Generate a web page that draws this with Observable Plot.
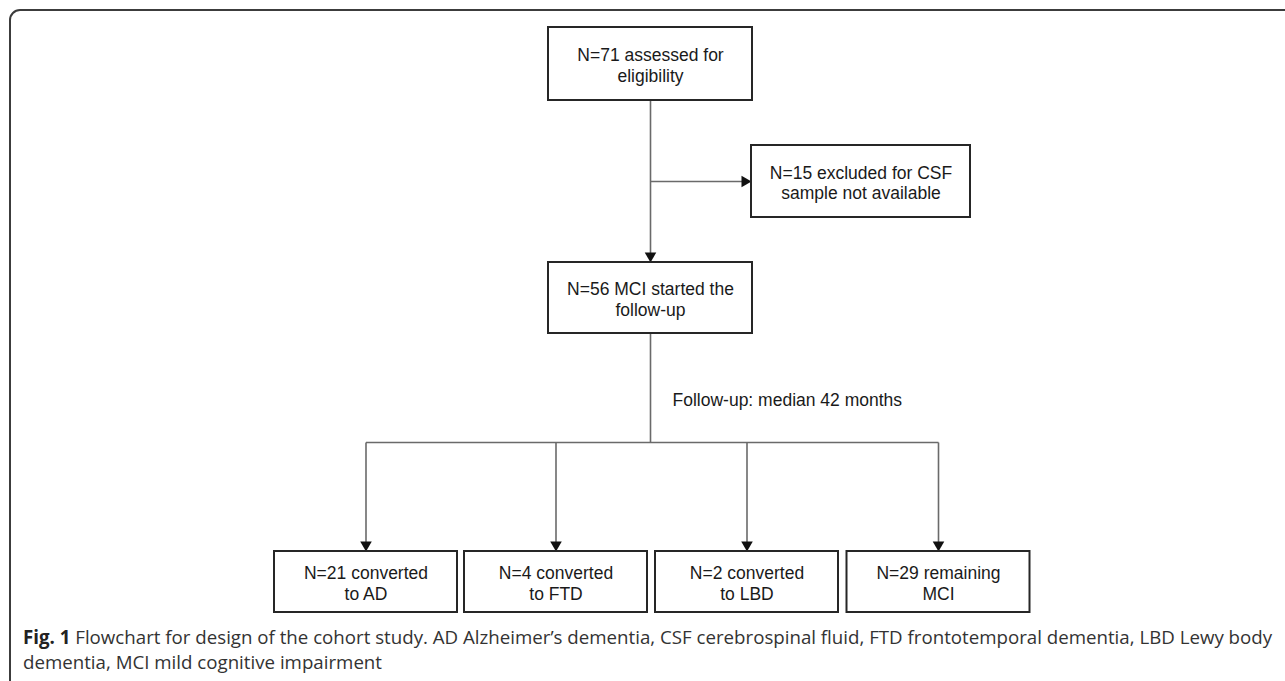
<!DOCTYPE html>
<html>
<head>
<meta charset="utf-8">
<script src="https://cdn.jsdelivr.net/npm/d3@7"></script>
<script src="https://cdn.jsdelivr.net/npm/@observablehq/plot@0.6"></script>
<style>
  html, body { margin: 0; padding: 0; background: #fff; overflow: hidden; }
  #page { position: relative; width: 1285px; height: 681px; overflow: hidden; }
  #frame { position: absolute; left: 9px; top: 9px; width: 1320px; height: 720px;
           border: 2px solid #3c3c3c; border-radius: 11px; box-sizing: border-box; }
  #chart { position: absolute; left: 0; top: 0; }
  #caption { position: absolute; left: 23px; top: 624px; width: 1270px;
             font-family: "Open Sans", sans-serif; font-size: 18.7px; line-height: 25px;
             color: #333; white-space: nowrap; }
  #caption b { color: #222; }
</style>
</head>
<body>
<div id="page">
  <div id="frame"></div>
  <div id="chart"></div>
  <div id="caption"></div>
</div>
<script>
// ---- data ----
const stepLabels = ["N=71 assessed for\neligibility", "N=56 MCI started the\nfollow-up"];
const excludedLabel = "N=15 excluded for CSF\nsample not available";
const followUpLabel = "Follow-up: median 42 months";
const outcomeLabels = ["N=21 converted\nto AD", "N=4 converted\nto FTD", "N=2 converted\nto LBD", "N=29 remaining\nMCI"];
const captionBold = "Fig. 1";
const captionLines = [
  " Flowchart for design of the cohort study. AD Alzheimer\u2019s dementia, CSF cerebrospinal fluid, FTD frontotemporal dementia, LBD Lewy body",
  "dementia, MCI mild cognitive impairment"
];

// ---- layout (diagram geometry, kept separate from the data) ----
const W = 1285, H = 625;
const L = {
  mainX: 650, mainW: 204,
  stepY: [[27, 100], [262, 333]],
  exclX: [751, 970], exclY: [145, 217], branchY: 181,
  splitY: 442, followX: 672, followY: 400,
  outCX: [365.5, 555.5, 746.5, 938], outW: 183, outY: [551, 612]
};

const boxes = [];
stepLabels.forEach((t, i) => boxes.push({x1: L.mainX - L.mainW/2, x2: L.mainX + L.mainW/2, y1: L.stepY[i][0], y2: L.stepY[i][1], label: t}));
boxes.push({x1: L.exclX[0], x2: L.exclX[1], y1: L.exclY[0], y2: L.exclY[1], label: excludedLabel});
outcomeLabels.forEach((t, i) => boxes.push({x1: L.outCX[i] - L.outW/2, x2: L.outCX[i] + L.outW/2, y1: L.outY[0], y2: L.outY[1], label: t}));

const links = [
  {x1: L.mainX, y1: L.stepY[0][1], x2: L.mainX, y2: L.stepY[1][0], dir: "down"},
  {x1: L.mainX, y1: L.branchY, x2: L.exclX[0], y2: L.branchY, dir: "right"},
  {x1: L.mainX, y1: L.stepY[1][1], x2: L.mainX, y2: L.splitY, dir: null},
  {x1: L.outCX[0], y1: L.splitY, x2: L.outCX[L.outCX.length-1], y2: L.splitY, dir: null},
  ...L.outCX.map(cx => ({x1: cx, y1: L.splitY, x2: cx, y2: L.outY[0], dir: "down"}))
];
const headLen = 10;
const heads = links.filter(d => d.dir).map(d => d.dir === "down"
  ? {x: d.x2, y: d.y2 - headLen * 2/3, rot: 180}
  : {x: d.x2 - headLen * 2/3, y: d.y2, rot: 90});
const lines = links.map(d => d.dir === "down" ? {...d, y2: d.y2 - headLen + 1}
                         : d.dir === "right" ? {...d, x2: d.x2 - headLen + 1} : d);

const ty = headLen / 3;
const triR = Math.sqrt(ty * ty * 3 * Math.sqrt(3) / Math.PI);

const plot = Plot.plot({
  width: W, height: H,
  margin: 0,
  x: {domain: [0, W], range: [0, W], axis: null},
  y: {domain: [0, H], range: [0, H], axis: null},
  marks: [
    Plot.link(lines, {x1: "x1", y1: "y1", x2: "x2", y2: "y2", stroke: "#6a6a6a", strokeWidth: 1.6}),
    Plot.dot(heads, {x: "x", y: "y", symbol: "triangle", r: triR, rotate: "rot", fill: "#111", stroke: "none"}),
    Plot.rect(boxes, {x1: "x1", x2: "x2", y1: "y1", y2: "y2", fill: "white", stroke: "#262626", strokeWidth: 2}),
    Plot.text(boxes, {x: d => (d.x1 + d.x2) / 2, y: d => (d.y1 + d.y2) / 2 + 1, text: "label",
      fontFamily: "Liberation Sans, Arial, sans-serif", fontSize: 17.5, lineHeight: 1.17, fill: "#1a1a1a"}),
    Plot.text([followUpLabel], {x: L.followX, y: L.followY, text: d => d, textAnchor: "start",
      fontFamily: "Liberation Sans, Arial, sans-serif", fontSize: 17.5, fill: "#1a1a1a"})
  ]
});
document.getElementById("chart").appendChild(plot);

const cap = document.getElementById("caption");
const b = document.createElement("b"); b.textContent = captionBold;
cap.appendChild(b);
cap.appendChild(document.createTextNode(captionLines[0]));
cap.appendChild(document.createElement("br"));
cap.appendChild(document.createTextNode(captionLines[1]));
</script>
</body>
</html>
